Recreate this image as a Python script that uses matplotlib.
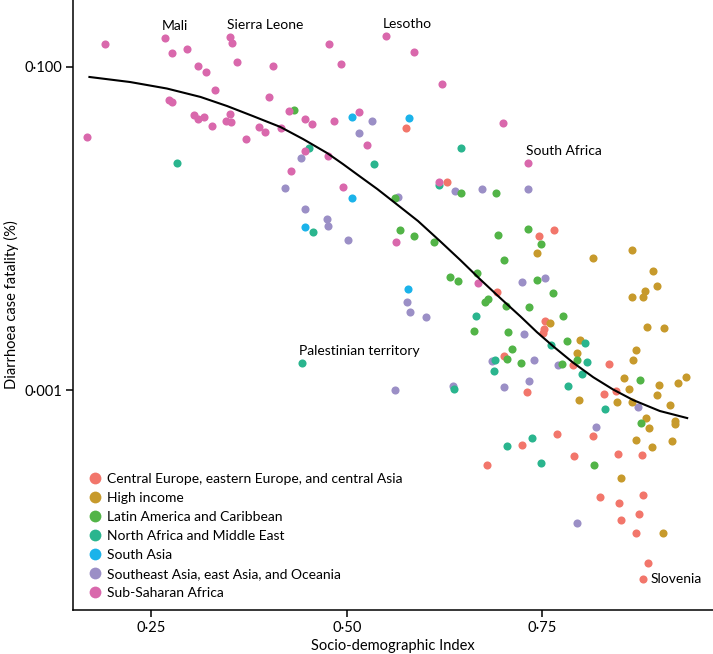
import matplotlib
matplotlib.use('Agg')
import matplotlib.pyplot as plt
from matplotlib.lines import Line2D
from matplotlib.ticker import NullLocator

plt.rcParams['font.family'] = ['Lato', 'DejaVu Sans']

# ---- data (SDI, case fatality in %) ----
ceeca_sdi = [0.576, 0.628, 0.746, 0.765, 0.692, 0.753, 0.752, 0.751, 0.701, 0.730,
             0.789, 0.835, 0.829, 0.844, 0.769, 0.724, 0.679, 0.790, 0.814, 0.847,
             0.877, 0.824, 0.848, 0.879, 0.873, 0.851, 0.870, 0.885, 0.879]
ceeca_cfr = [0.0418, 0.0193, 0.00897, 0.00977, 0.00404, 0.00267, 0.00238, 0.00225, 0.00162, 0.000972,
             0.00143, 0.00145, 0.000945, 0.000986, 0.000534, 0.000457, 0.000344, 0.000391, 0.000519, 0.000402,
             0.000396, 0.000218, 0.000200, 0.000224, 0.000171, 0.000157, 0.000130, 0.0000851, 0.0000677]

hi_sdi = [0.743, 0.815, 0.865, 0.891, 0.897, 0.881, 0.879, 0.865, 0.884, 0.906,
          0.870, 0.866, 0.760, 0.798, 0.794, 0.854, 0.861, 0.899, 0.923, 0.934,
          0.897, 0.913, 0.845, 0.865, 0.797, 0.882, 0.920, 0.920, 0.886, 0.870,
          0.916, 0.890, 0.851, 0.904]
hi_cfr = [0.00704, 0.00655, 0.00735, 0.00545, 0.00440, 0.00410, 0.00376, 0.00376, 0.00245, 0.00242,
          0.00177, 0.00153, 0.00260, 0.00204, 0.00169, 0.00119, 0.00101, 0.00107, 0.00110, 0.00120,
          0.000931, 0.000808, 0.000843, 0.000843, 0.000867, 0.000671, 0.000643, 0.000616, 0.000582, 0.000491,
          0.000484, 0.000444, 0.000286, 0.000130]

latam_sdi = [0.433, 0.561, 0.646, 0.691, 0.568, 0.586, 0.612, 0.693, 0.732, 0.748,
             0.701, 0.632, 0.642, 0.667, 0.743, 0.764, 0.676, 0.681, 0.704, 0.733,
             0.776, 0.663, 0.706, 0.782, 0.711, 0.705, 0.723, 0.775, 0.794, 0.875,
             0.876, 0.816]
latam_cfr = [0.0540, 0.0154, 0.0165, 0.0165, 0.00977, 0.00897, 0.00823, 0.00910, 0.00991, 0.00800,
             0.00637, 0.00500, 0.00472, 0.00529, 0.00479, 0.00398, 0.00350, 0.00365, 0.00331, 0.00326,
             0.00287, 0.00232, 0.00228, 0.00201, 0.00179, 0.00155, 0.00147, 0.00145, 0.00153, 0.00115,
             0.000625, 0.000344]

name_sdi = [0.283, 0.452, 0.457, 0.535, 0.618, 0.646, 0.443, 0.665, 0.690, 0.688,
            0.637, 0.761, 0.805, 0.807, 0.801, 0.783, 0.830, 0.705, 0.737, 0.748]
name_cfr = [0.0254, 0.0314, 0.00949, 0.0250, 0.0185, 0.0314, 0.00147, 0.00287, 0.00153, 0.00131,
            0.00101, 0.00190, 0.00195, 0.00149, 0.00126, 0.00106, 0.000763, 0.000450, 0.000505, 0.000354]

sa_sdi = [0.506, 0.580, 0.506, 0.447, 0.578]
sa_cfr = [0.0489, 0.0482, 0.0154, 0.0102, 0.00421]

seao_sdi = [0.532, 0.516, 0.442, 0.421, 0.446, 0.475, 0.476, 0.502, 0.566, 0.638,
            0.673, 0.732, 0.577, 0.581, 0.601, 0.724, 0.753, 0.727, 0.686, 0.739,
            0.770, 0.562, 0.636, 0.701, 0.733, 0.872, 0.819, 0.794]
seao_cfr = [0.0461, 0.0389, 0.0272, 0.0178, 0.0132, 0.0114, 0.0103, 0.00847, 0.0156, 0.0170,
            0.0175, 0.0175, 0.00350, 0.00304, 0.00283, 0.00466, 0.00493, 0.00222, 0.00151, 0.00153,
            0.00143, 0.00100, 0.00106, 0.00104, 0.00114, 0.000785, 0.000590, 0.000150]

ssa_sdi = [0.168, 0.191, 0.267, 0.277, 0.296, 0.310, 0.320, 0.332, 0.273, 0.277,
           0.305, 0.310, 0.318, 0.328, 0.351, 0.353, 0.360, 0.405, 0.401, 0.351,
           0.346, 0.352, 0.371, 0.388, 0.396, 0.416, 0.426, 0.446, 0.456, 0.484,
           0.477, 0.493, 0.515, 0.428, 0.447, 0.476, 0.495, 0.526, 0.550, 0.586,
           0.621, 0.618, 0.699, 0.732, 0.563, 0.668]
ssa_cfr = [0.0367, 0.138, 0.151, 0.122, 0.129, 0.101, 0.0927, 0.0718, 0.0622, 0.0605,
           0.0503, 0.0475, 0.0489, 0.0430, 0.153, 0.140, 0.107, 0.101, 0.0650, 0.0510,
           0.0461, 0.0455, 0.0357, 0.0424, 0.0394, 0.0418, 0.0532, 0.0475, 0.0442, 0.0461,
           0.138, 0.104, 0.0524, 0.0226, 0.0301, 0.0280, 0.0180, 0.0328, 0.155, 0.123,
           0.0782, 0.0193, 0.0448, 0.0254, 0.00823, 0.00459]

# expected values along SDI (black curve)
curve_sdi = [0.171, 0.223, 0.270, 0.313, 0.347, 0.380, 0.415, 0.444, 0.475, 0.495,
             0.517, 0.539, 0.559, 0.591, 0.619, 0.645, 0.670, 0.696, 0.722, 0.743,
             0.764, 0.789, 0.815, 0.840, 0.866, 0.900, 0.935]
curve_cfr = [0.0864, 0.0804, 0.0733, 0.0650, 0.0571, 0.0495, 0.0424, 0.0357, 0.0292, 0.0250,
             0.0209, 0.0175, 0.0147, 0.0111, 0.00835, 0.00637, 0.00486, 0.00371, 0.00285, 0.00228,
             0.00186, 0.00148, 0.00120, 0.00101, 0.000867, 0.000742, 0.000671]

label_names = ['Mali', 'Sierra Leone', 'Lesotho', 'South Africa', 'Palestinian territory', 'Slovenia']
label_sdi = [0.267, 0.351, 0.550, 0.732, 0.443, 0.879]
label_cfr = [0.151, 0.153, 0.155, 0.0254, 0.00147, 0.0000677]

regions = ['Central Europe, eastern Europe, and central Asia', 'High income',
           'Latin America and Caribbean', 'North Africa and Middle East', 'South Asia',
           'Southeast Asia, east Asia, and Oceania', 'Sub-Saharan Africa']
colors = ['#F2766B', '#C79A2C', '#52B447', '#2AB58E', '#1BB3EA', '#9B8FC6', '#D968AC']
xs = [ceeca_sdi, hi_sdi, latam_sdi, name_sdi, sa_sdi, seao_sdi, ssa_sdi]
ys = [ceeca_cfr, hi_cfr, latam_cfr, name_cfr, sa_cfr, seao_cfr, ssa_cfr]

fig = plt.figure(figsize=(7.13, 6.54), dpi=100)
ax = fig.add_axes([73 / 713, 44 / 654, 640 / 713, 610 / 654])

draw_order = [0, 5, 1, 2, 3, 4, 6]
for i in draw_order:
    ax.scatter(xs[i], ys[i], s=34, color=colors[i], linewidths=0, zorder=2)

ax.plot(curve_sdi, curve_cfr, color='black', lw=1.5, zorder=3,
        solid_joinstyle='round')

ax.set_yscale('log')
ax.set_xlim(0.150, 0.968)
ax.set_ylim(4.36e-5, 0.2586)
ax.set_xticks([0.25, 0.50, 0.75])
ax.set_xticklabels(['0·25', '0·50', '0·75'])
ax.set_yticks([0.001, 0.1])
ax.set_yticklabels(['0·001', '0·100'])
ax.yaxis.set_minor_locator(NullLocator())
ax.spines['top'].set_visible(False)
ax.spines['right'].set_visible(False)
for s in ['left', 'bottom']:
    ax.spines[s].set_linewidth(1.1)
ax.tick_params(length=5, width=1.1, labelsize=10.5, pad=3)
ax.set_xlabel('Socio-demographic Index', fontsize=10.5, labelpad=3)
ax.set_ylabel('Diarrhoea case fatality (%)', fontsize=10.5)

offsets = {'Slovenia': (5, 0, 'left', 'center')}
for n, lx, ly in zip(label_names, label_sdi, label_cfr):
    dx, dy, ha, va = offsets.get(n, (-2, 4, 'left', 'bottom'))
    ax.annotate(n, (lx, ly), xytext=(dx, dy), textcoords='offset points',
                ha=ha, va=va, fontsize=10)

handles = [Line2D([], [], marker='o', ls='', color=c, markersize=8.5, markeredgewidth=0)
           for c in colors]
ax.legend(handles, regions, loc='lower left', bbox_to_anchor=(0.024, 0.018),
          frameon=False, fontsize=10, handlelength=0.9, handletextpad=0.45,
          labelspacing=0.51, borderaxespad=0, borderpad=0)

fig.savefig('out.png', dpi=100)
